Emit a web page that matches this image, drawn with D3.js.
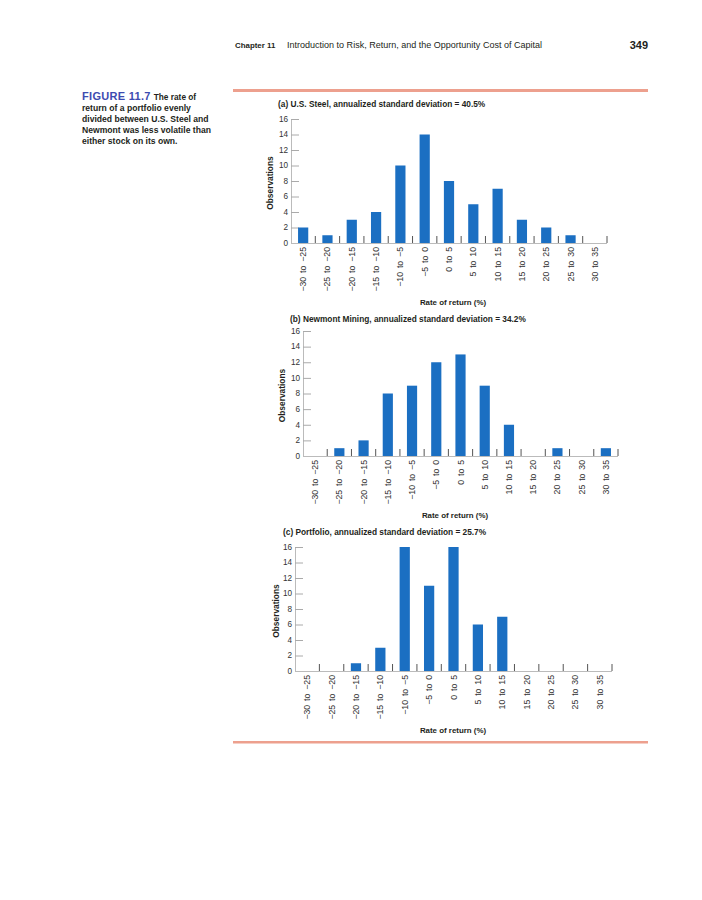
<!DOCTYPE html>
<html><head><meta charset="utf-8">
<script src="https://cdn.jsdelivr.net/npm/d3@7"></script>
<style>
body{margin:0;background:#fff;}
svg{display:block;font-family:"Liberation Sans",Arial,sans-serif;}
</style></head>
<body><svg id="c" width="702" height="900"></svg>
<script>
const categories = ["\u221230 to \u221225","\u221225 to \u221220","\u221220 to \u221215","\u221215 to \u221210","\u221210 to \u22125","\u22125 to 0","0 to 5","5 to 10","10 to 15","15 to 20","20 to 25","25 to 30","30 to 35"];
const usSteel = [2,1,3,4,10,14,8,5,7,3,2,1,0];
const newmont = [0,1,2,8,9,12,13,9,4,0,1,0,1];
const portfolio = [0,0,1,3,16,11,16,6,7,0,0,0,0];
const yTicks = [0,2,4,6,8,10,12,14,16];
const titles = ["(a) U.S. Steel, annualized standard deviation = 40.5%","(b) Newmont Mining, annualized standard deviation = 34.2%","(c) Portfolio, annualized standard deviation = 25.7%"];
const captionLines = ["return of a portfolio evenly","divided between U.S. Steel and","Newmont was less volatile than","either stock on its own."];

const svg = d3.select("#c");
const BLUE = "#1b6fc2";
const INK = "#231f20";

// header
svg.append("text").attr("x",235).attr("y",48).attr("font-size",7.9).attr("font-weight",700).attr("fill",INK).text("Chapter 11");
svg.append("text").attr("x",287).attr("y",48).attr("font-size",8.7).attr("fill",INK).attr("textLength",255).attr("lengthAdjust","spacingAndGlyphs").text("Introduction to Risk, Return, and the Opportunity Cost of Capital");
svg.append("text").attr("x",648).attr("y",49).attr("text-anchor","end").attr("font-size",11).attr("font-weight",700).attr("fill",INK).text("349");

// caption
const cap = svg.append("text").attr("x",82).attr("y",100).attr("fill",INK);
cap.append("tspan").attr("font-size",11).attr("font-weight",700).attr("letter-spacing",0.3).attr("fill","#3d4bb0").text("FIGURE 11.7");
cap.append("tspan").attr("dx",3).attr("font-size",8.3).attr("font-weight",700).text("The rate of");
captionLines.forEach((t,i)=>{
  svg.append("text").attr("x",82).attr("y",111+i*11).attr("font-size",8.6).attr("font-weight",700).attr("fill",INK).text(t);
});

// rules
svg.append("rect").attr("x",233).attr("y",89).attr("width",415).attr("height",3).attr("fill","#eda08e");
svg.append("rect").attr("x",233).attr("y",741).attr("width",415).attr("height",2.5).attr("fill","#eda08e");

const panels = [
  {data:usSteel, x0:291, x1:607, y0:243, y16:119, tx:278, ty:107, obsX:270, rateX:453, rateY:305},
  {data:newmont, x0:303, x1:618, y0:456, y16:331, tx:290, ty:322, obsX:282, rateX:455, rateY:518},
  {data:portfolio, x0:295, x1:612, y0:671, y16:547, tx:283, ty:535, obsX:276, rateX:453, rateY:733}
];

panels.forEach((p,pi)=>{
  const g = svg.append("g");
  const x = d3.scaleBand().domain(categories).range([p.x0,p.x1]).paddingInner(0.58).paddingOuter(0.29);
  const y = d3.scaleLinear().domain([0,16]).range([p.y0,p.y16]);
  g.append("text").attr("x",p.tx).attr("y",p.ty).attr("font-size",8.3).attr("font-weight",700).attr("fill",INK).text(titles[pi]);
  const ya = g.append("g").attr("transform",`translate(${p.x0},0)`).call(d3.axisRight(y).tickValues(yTicks).tickSize(8).tickFormat(""));
  ya.select(".domain").attr("stroke","#bbb");
  ya.selectAll(".tick line").attr("stroke","#aaa");
  yTicks.forEach(v=>{
    g.append("text").attr("x",p.x0-3).attr("y",y(v)).attr("dy","0.35em").attr("text-anchor","end").attr("font-size",8.2).attr("fill","#333").text(v);
  });
  g.selectAll("rect.bar").data(p.data).join("rect").attr("class","bar")
    .attr("x",(d,i)=>x(categories[i])).attr("width",x.bandwidth())
    .attr("y",d=>y(d)).attr("height",d=>y(0)-y(d)).attr("fill",BLUE);
  g.append("line").attr("x1",p.x0).attr("x2",p.x1).attr("y1",p.y0+0.5).attr("y2",p.y0+0.5).attr("stroke","#bbb");
  const bounds = d3.range(1,categories.length+1).map(k=>p.x0+k*(p.x1-p.x0)/categories.length);
  g.selectAll("line.tk").data(bounds).join("line").attr("class","tk")
    .attr("x1",d=>d).attr("x2",d=>d).attr("y1",p.y0-7).attr("y2",p.y0).attr("stroke","#555").attr("stroke-width",1);
  categories.forEach(c=>{
    const cx = x(c)+x.bandwidth()/2;
    g.append("text").attr("transform",`translate(${cx+3},${p.y0+4}) rotate(-90)`).attr("text-anchor","end")
      .attr("font-size",8.7).attr("word-spacing",1.5).attr("fill","#333").text(c);
  });
  g.append("text").attr("x",p.rateX).attr("y",p.rateY).attr("text-anchor","middle").attr("font-size",7.9).attr("font-weight",700).attr("fill",INK).text("Rate of return (%)");
  g.append("text").attr("transform",`translate(${p.obsX+3},${(p.y0+p.y16)/2+2}) rotate(-90)`).attr("text-anchor","middle")
    .attr("font-size",8.4).attr("font-weight",700).attr("fill",INK).text("Observations");
});
</script></body></html>
